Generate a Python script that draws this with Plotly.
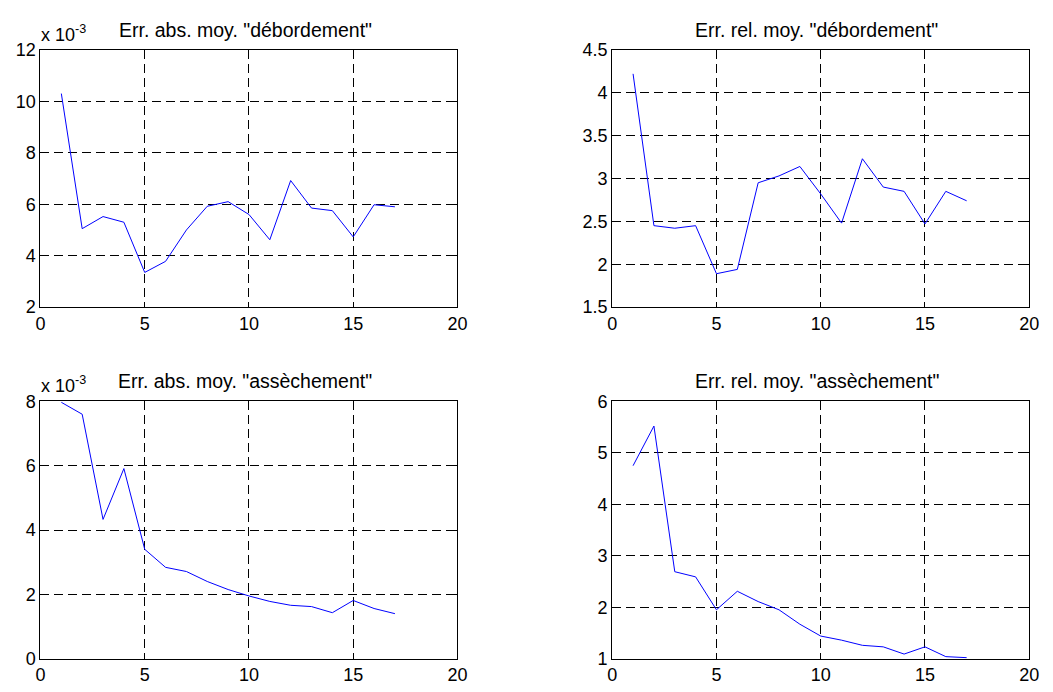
import plotly.graph_objects as go

# iterations
x = list(range(1, 18))

# mean absolute error "débordement" (x 10^-3)
abs_deb = [10.3, 5.05, 5.52, 5.3, 3.35, 3.78, 5.0, 5.92, 6.1, 5.6,
           4.62, 6.92, 5.85, 5.75, 4.73, 5.98, 5.9]
# mean relative error "débordement"
rel_deb = [4.22, 2.45, 2.42, 2.45, 1.89, 1.94, 2.95, 3.03, 3.14, 2.82,
           2.48, 3.23, 2.90, 2.85, 2.47, 2.85, 2.74]
# mean absolute error "assèchement" (x 10^-3)
abs_ass = [7.97, 7.6, 4.33, 5.91, 3.4, 2.84, 2.71, 2.4, 2.15, 1.95,
           1.78, 1.66, 1.62, 1.43, 1.81, 1.56, 1.4]
# mean relative error "assèchement"
rel_ass = [4.75, 5.52, 2.69, 2.59, 1.95, 2.31, 2.11, 1.95, 1.67, 1.44,
           1.36, 1.26, 1.23, 1.09, 1.23, 1.04, 1.02]

titles = ['Err. abs. moy. "débordement"', 'Err. rel. moy. "débordement"',
          'Err. abs. moy. "assèchement"', 'Err. rel. moy. "assèchement"']
series = [abs_deb, rel_deb, abs_ass, rel_ass]
yranges = [[2, 12], [1.5, 4.5], [0, 8], [1, 6]]
ydticks = [2, 0.5, 2, 1]
scaled = [True, False, True, False]

W, H = 1053, 692
FONT = "Arial, Liberation Sans, sans-serif"
xdoms = [[36 / W, 459 / W], [616 / W, 1039 / W]]
ydoms = [[1 - 306 / H, 1 - 41 / H], [1 - 668 / H, 1 - 403 / H]]

fig = go.Figure()
annotations = []
for i, (y, title) in enumerate(zip(series, titles)):
    n = "" if i == 0 else str(i + 1)
    row, col = divmod(i, 2)
    fig.add_trace(go.Scatter(x=x, y=y, mode="lines",
                             line=dict(color="#0000ff", width=1),
                             xaxis="x" + n, yaxis="y" + n, showlegend=False))
    common = dict(showline=True, linecolor="black", linewidth=1, mirror="ticks",
                  ticks="inside", ticklen=5, tickcolor="black",
                  showgrid=True, gridcolor="black", gridwidth=1,
                  griddash="9px,5px", zeroline=False,
                  tickfont=dict(family=FONT, size=18, color="black"))
    fig.layout["xaxis" + n] = dict(common, domain=xdoms[col], range=[0, 20],
                                   dtick=5, tick0=0, anchor="y" + n)
    fig.layout["yaxis" + n] = dict(common, domain=ydoms[row], range=yranges[i],
                                   dtick=ydticks[i], anchor="x" + n)
    annotations.append(dict(text=title, xref="paper", yref="paper",
                            x=sum(xdoms[col]) / 2 - 4 / W, y=ydoms[row][1],
                            xanchor="center", yanchor="bottom", yshift=7,
                            showarrow=False,
                            font=dict(family=FONT, size=19.5, color="black")))
    if scaled[i]:
        annotations.append(dict(text="x 10<sup>-3</sup>", xref="paper", yref="paper",
                                x=xdoms[col][0] - 2 / W, y=ydoms[row][1],
                                xanchor="left", yanchor="bottom", yshift=3,
                                showarrow=False,
                                font=dict(family=FONT, size=18, color="black")))

fig.update_layout(width=W, height=H, annotations=annotations,
                  plot_bgcolor="white", paper_bgcolor="white",
                  margin=dict(l=0, r=0, t=0, b=0))

fig.write_html("out.html", config={"displayModeBar": False},
               post_script="document.body.style.margin='0';")
